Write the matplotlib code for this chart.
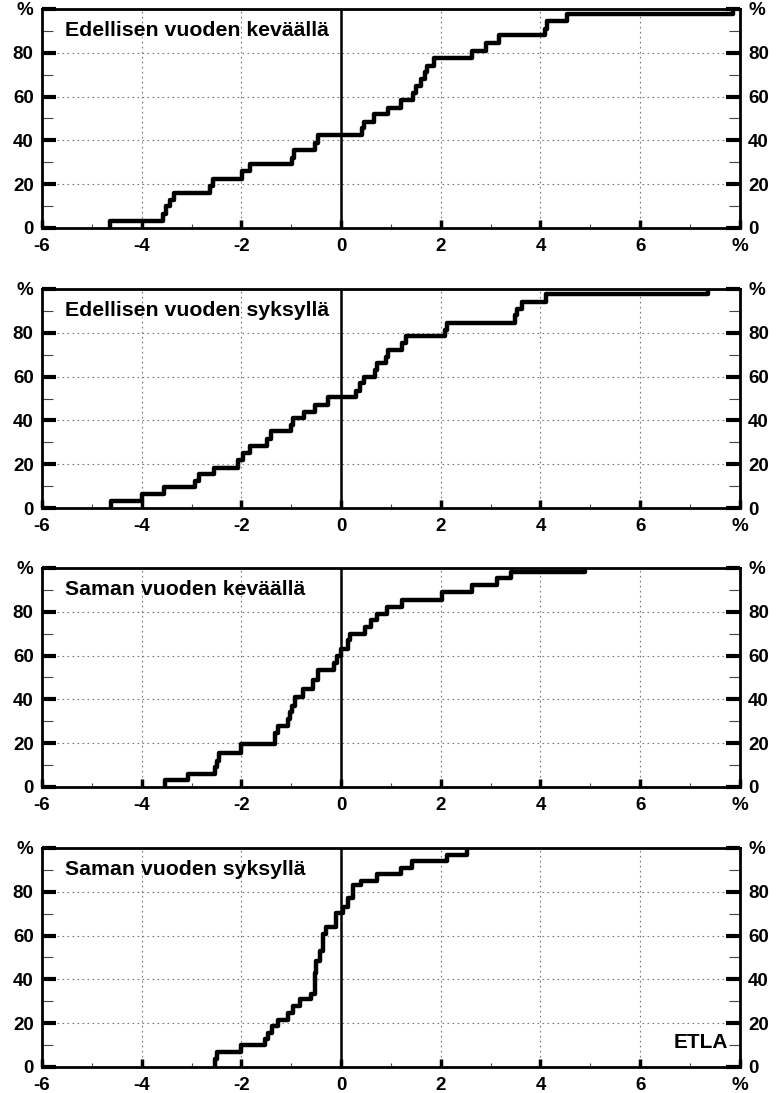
import matplotlib
matplotlib.use('Agg')
import matplotlib.pyplot as plt
from matplotlib.ticker import MultipleLocator

plt.rcParams['font.family'] = ['Liberation Sans', 'DejaVu Sans']
plt.rcParams['font.weight'] = 'bold'

titles = ['Edellisen vuoden keväällä', 'Edellisen vuoden syksyllä',
          'Saman vuoden keväällä', 'Saman vuoden syksyllä']

# step positions (%) and cumulative share (%) after each step
x1 = [-4.63, -3.58, -3.51, -3.43, -3.36, -2.63, -2.56, -1.98, -1.83, -0.98, -0.95,
      -0.53, -0.46, 0.41, 0.46, 0.67, 0.94, 1.21, 1.44, 1.51, 1.61, 1.68, 1.73,
      1.87, 2.62, 2.91, 3.17, 4.10, 4.14, 4.54, 7.86]
y1 = [3, 6.5, 10, 13, 16, 19, 22.5, 26, 29, 32, 35.5, 39, 42.5, 45.5, 48.5, 52, 55,
      58.5, 61.5, 65, 68, 71, 74, 77.5, 81, 84.5, 88, 91, 94.5, 97.5, 100]

x2 = [-4.61, -4.00, -3.55, -2.93, -2.85, -2.54, -2.07, -1.97, -1.83, -1.48, -1.41,
      -1.00, -0.97, -0.75, -0.52, -0.26, 0.30, 0.37, 0.45, 0.68, 0.72, 0.90, 0.95,
      1.23, 1.30, 2.08, 2.12, 3.48, 3.52, 3.63, 4.12, 7.37]
y2 = [3, 6.5, 9.5, 12.5, 15.5, 18.5, 22, 25, 28.5, 31.5, 35, 38, 41, 44, 47, 50.5,
      53.5, 57, 60, 63, 66, 69, 72, 75.5, 78.5, 81.5, 84.5, 88, 91, 94, 97.5, 100]

x3 = [-3.53, -3.07, -2.53, -2.49, -2.45, -2.00, -1.32, -1.27, -1.07, -1.02, -0.98,
      -0.92, -0.77, -0.57, -0.47, -0.15, -0.08, -0.01, 0.14, 0.17, 0.48, 0.60, 0.72,
      0.93, 1.23, 2.03, 2.63, 3.13, 3.40, 4.90]
y3 = [3, 6, 9, 12, 15.5, 19.5, 24.5, 28, 31, 34, 37, 41, 44.5, 49, 53.5, 56.5, 60,
      63, 67, 70, 73, 76, 79, 82, 85.5, 89, 92, 95.5, 98, 100]

x4 = [-2.53, -2.48, -2.00, -1.53, -1.47, -1.38, -1.27, -1.07, -0.97, -0.83, -0.60,
      -0.53, -0.52, -0.50, -0.43, -0.37, -0.30, -0.10, 0.03, 0.13, 0.23, 0.40, 0.73,
      1.20, 1.43, 2.13, 2.53]
y4 = [3.5, 7, 10, 13, 15.5, 18.5, 21.5, 24.5, 28, 31, 33.5, 38.5, 43, 48.5, 53,
      60.5, 64, 70.5, 73, 77, 83, 85, 88, 91, 94, 97, 100]

series = [(x1, y1), (x2, y2), (x3, y3), (x4, y4)]

x_ticks = [-6, -4, -2, 0, 2, 4, 6, 8]
x_labels = ['-6', '-4', '-2', '0', '2', '4', '6', '%']
y_ticks = [0, 20, 40, 60, 80, 100]
y_labels = ['0', '20', '40', '60', '80', '%']

fig = plt.figure(figsize=(7.78, 10.93), dpi=100)
bottoms = [0.7914, 0.5352, 0.2800, 0.0238]

for i, (title, (xs, ys)) in enumerate(zip(titles, series)):
    ax = fig.add_axes([0.054, bottoms[i], 0.897, 0.2004])
    ax.set_xlim(-6, 8)
    ax.set_ylim(0, 100)

    for g in [20, 40, 60, 80]:
        ax.axhline(g, color='#777777', lw=0.8, ls=(0, (1.5, 3)), zorder=1)
    for g in [-4, -2, 2, 4, 6]:
        ax.axvline(g, color='#777777', lw=0.8, ls=(0, (1.5, 3)), zorder=1)
    ax.axvline(0, color='black', lw=1.8, zorder=2)

    ax.step([xs[0]] + xs, [0] + ys, where='post', color='black', lw=3.2, zorder=3)

    ax.set_xticks(x_ticks)
    ax.set_xticklabels(x_labels, fontsize=13.5, fontweight='bold')
    ax.set_yticks(y_ticks)
    ax.set_yticklabels(y_labels, fontsize=13.5, fontweight='bold')
    ax.xaxis.set_minor_locator(MultipleLocator(1))
    ax.yaxis.set_minor_locator(MultipleLocator(10))

    ax.tick_params(axis='y', which='major', direction='in', length=10, width=3,
                   left=True, right=True, labelleft=True, labelright=True, pad=6)
    ax.tick_params(axis='y', which='minor', direction='in', length=8, width=0.8,
                   left=True, right=True, color='#444444')
    ax.tick_params(axis='x', which='major', direction='in', length=6, width=2.5, pad=7)
    ax.tick_params(axis='x', which='minor', direction='in', length=3, width=0.8,
                   color='#444444')

    for side in ax.spines.values():
        side.set_linewidth(2)

    ax.text(0.033, 0.90, title, transform=ax.transAxes, fontsize=15.3,
            fontweight='bold', ha='left', va='center')

    if i == 3:
        ax.text(0.983, 0.11, 'ETLA', transform=ax.transAxes, fontsize=15,
                fontweight='bold', ha='right', va='center')

fig.savefig('out.png', dpi=100)
